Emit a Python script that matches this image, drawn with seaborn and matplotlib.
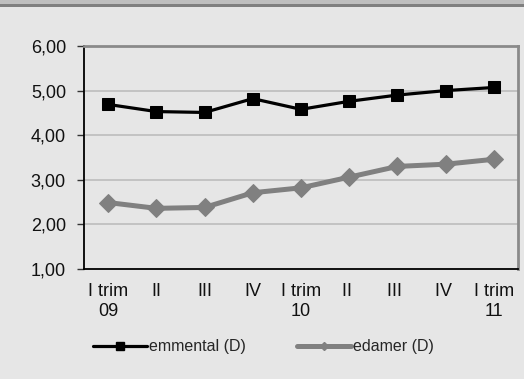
import matplotlib
matplotlib.use("Agg")
import matplotlib.pyplot as plt
import seaborn as sns
import pandas as pd
from matplotlib.lines import Line2D
from matplotlib.patches import Rectangle

categories = ["I trim\n09", "II", "III", "IV", "I trim\n10", "II ", "III ", "IV ", "I trim\n11"]
emmental = [4.69, 4.53, 4.51, 4.82, 4.58, 4.76, 4.90, 5.00, 5.07]
edamer = [2.49, 2.36, 2.38, 2.71, 2.82, 3.06, 3.30, 3.35, 3.46]
series_names = ["emmental (D)", "edamer (D)"]
y_ticks = [1, 2, 3, 4, 5, 6]

sns.set_theme(style="white")
plt.rcParams['font.family'] = ['Liberation Sans', 'DejaVu Sans']

bg = "#e6e6e6"
fig = plt.figure(figsize=(5.24, 3.79), dpi=100, facecolor=bg)
ax = fig.add_axes([84/524, 1-269/379, (518-84)/524, (269-46)/379])
ax.set_facecolor(bg)

# top band
fig.patches.append(Rectangle((0, 1-4/379), 1, 4/379, transform=fig.transFigure,
                             facecolor="#bfbfbf", edgecolor="none", zorder=0))
fig.patches.append(Rectangle((0, 1-6.5/379), 1, 2.5/379, transform=fig.transFigure,
                             facecolor="#808080", edgecolor="none", zorder=0))

x = list(range(len(categories)))
df = pd.DataFrame({
    "x": x * 2,
    "value": emmental + edamer,
    "series": [series_names[0]] * len(x) + [series_names[1]] * len(x),
})

sns.lineplot(data=df[df.series == series_names[0]], x="x", y="value", ax=ax,
             color="black", lw=2.3, marker="s", markersize=9, markeredgecolor="black",
             legend=False, zorder=4)
sns.lineplot(data=df[df.series == series_names[1]], x="x", y="value", ax=ax,
             color="#808080", lw=3.6, marker="D", markersize=9, markeredgecolor="#808080",
             legend=False, zorder=3)

ax.set_xlim(-0.5, len(categories) - 0.5)
ax.set_ylim(1, 6)
ax.set_yticks(y_ticks)
ax.set_yticklabels([f"{v:.2f}".replace(".", ",") for v in y_ticks], fontsize=13, color="#111111")
ax.set_xticks(x)
ax.set_xticklabels(categories, fontsize=13, color="#111111", linespacing=1.25)
ax.set_xticks([i - 0.5 for i in range(len(categories) + 1)], minor=True)
ax.tick_params(axis="x", which="major", length=0, pad=10)
ax.tick_params(axis="x", which="minor", length=5, width=1, color="#333333", direction="out")
ax.tick_params(axis="y", length=5, width=1, color="#333333", direction="out", left=True, pad=8)
ax.set_xlabel("")
ax.set_ylabel("")

for yv in y_ticks[1:-1]:
    ax.axhline(yv, color="#bdbdbd", lw=1.2, zorder=1)

ax.spines["left"].set_color("black")
ax.spines["left"].set_linewidth(1.3)
ax.spines["bottom"].set_color("black")
ax.spines["bottom"].set_linewidth(1.3)
ax.spines["top"].set_color("#8a8a8a")
ax.spines["top"].set_linewidth(2)
ax.spines["right"].set_color("#8a8a8a")
ax.spines["right"].set_linewidth(2)

handles = [
    Line2D([], [], color="black", lw=2.3, marker="s", markersize=6),
    Line2D([], [], color="#808080", lw=3.6, marker="D", markersize=4),
]
fig.legend(handles, series_names, loc="center left", bbox_to_anchor=(93/524, 1-347/379),
           ncol=2, frameon=False, fontsize=11.5, handlelength=3.4, handletextpad=0.1,
           columnspacing=3.2, borderaxespad=0, borderpad=0)

fig.savefig("out.png", dpi=100, facecolor=bg)
